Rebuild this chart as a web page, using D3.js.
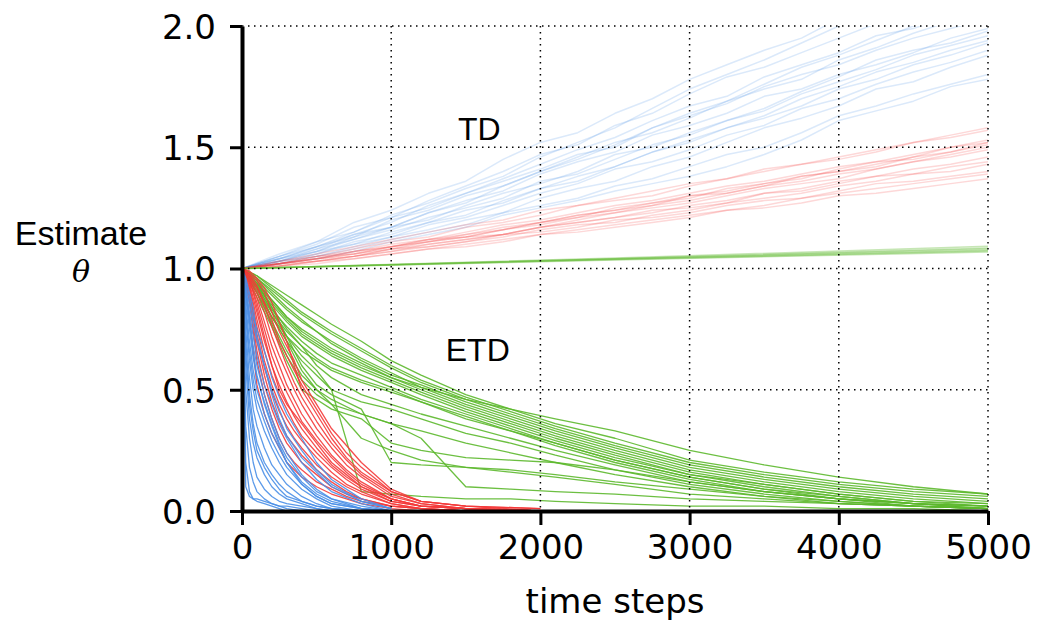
<!DOCTYPE html>
<html>
<head>
<meta charset="utf-8">
<script src="https://cdn.jsdelivr.net/npm/d3@7"></script>
<style>
  body { margin: 0; background: #fff; }
  svg { display: block; }
</style>
</head>
<body>
<div id="chart"></div>
<script>
// Data
const xTicks = [0, 1000, 2000, 3000, 4000, 5000];
const yTicks = [0, 0.5, 1.0, 1.5, 2.0];

// TD runs, sampled every 250 steps
const tdTimes = [0, 250, 500, 750, 1000, 1250, 1500, 1750, 2000, 2250, 2500, 2750, 3000, 3250, 3500, 3750, 4000, 4250, 4500, 4750, 5000];
const tdBlue = [
    [1.00, 1.06, 1.11, 1.19, 1.24, 1.31, 1.36, 1.45, 1.52, 1.56, 1.64, 1.70, 1.78, 1.84, 1.90, 1.95, 2.03, 2.08, 2.12, 2.20, 2.25],
    [1.00, 1.05, 1.10, 1.17, 1.21, 1.28, 1.34, 1.40, 1.47, 1.51, 1.59, 1.64, 1.72, 1.79, 1.83, 1.89, 1.95, 2.01, 2.05, 2.10, 2.15],
    [1.00, 1.04, 1.09, 1.14, 1.19, 1.26, 1.31, 1.37, 1.43, 1.49, 1.54, 1.61, 1.67, 1.71, 1.79, 1.84, 1.89, 1.96, 1.99, 2.04, 2.08],
    [1.00, 1.05, 1.11, 1.15, 1.21, 1.25, 1.31, 1.36, 1.41, 1.47, 1.50, 1.58, 1.63, 1.68, 1.75, 1.80, 1.84, 1.90, 1.95, 1.99, 2.03],
    [1.00, 1.03, 1.08, 1.14, 1.17, 1.23, 1.28, 1.32, 1.39, 1.44, 1.48, 1.55, 1.59, 1.64, 1.71, 1.74, 1.80, 1.84, 1.89, 1.95, 1.99],
    [1.00, 1.04, 1.07, 1.13, 1.17, 1.20, 1.26, 1.31, 1.35, 1.40, 1.47, 1.50, 1.56, 1.61, 1.65, 1.72, 1.77, 1.82, 1.88, 1.92, 1.96],
    [1.00, 1.03, 1.07, 1.10, 1.15, 1.19, 1.22, 1.28, 1.33, 1.36, 1.42, 1.48, 1.52, 1.58, 1.62, 1.67, 1.74, 1.78, 1.84, 1.88, 1.93],
    [1.00, 1.02, 1.06, 1.10, 1.13, 1.18, 1.21, 1.26, 1.31, 1.35, 1.41, 1.44, 1.49, 1.55, 1.59, 1.66, 1.70, 1.76, 1.81, 1.85, 1.90],
    [1.00, 1.03, 1.05, 1.09, 1.13, 1.16, 1.20, 1.23, 1.29, 1.33, 1.36, 1.42, 1.46, 1.52, 1.58, 1.62, 1.67, 1.74, 1.77, 1.83, 1.88],
    [1.00, 1.02, 1.05, 1.08, 1.12, 1.15, 1.18, 1.23, 1.26, 1.29, 1.34, 1.37, 1.42, 1.47, 1.50, 1.56, 1.63, 1.67, 1.72, 1.76, 1.80],
    [1.00, 1.04, 1.08, 1.12, 1.17, 1.23, 1.27, 1.34, 1.40, 1.45, 1.51, 1.58, 1.64, 1.69, 1.76, 1.83, 1.88, 1.94, 2.00, 2.06, 2.12],
    [1.00, 1.02, 1.04, 1.07, 1.11, 1.14, 1.17, 1.22, 1.25, 1.28, 1.32, 1.35, 1.38, 1.42, 1.47, 1.53, 1.61, 1.65, 1.69, 1.75, 1.78],
    [1.00, 1.05, 1.09, 1.15, 1.22, 1.27, 1.33, 1.38, 1.46, 1.52, 1.58, 1.66, 1.74, 1.80, 1.86, 1.93, 2.00, 2.07, 2.13, 2.20, 2.30],
    [1.00, 1.03, 1.06, 1.11, 1.14, 1.19, 1.24, 1.27, 1.33, 1.38, 1.42, 1.48, 1.53, 1.58, 1.63, 1.70, 1.75, 1.81, 1.85, 1.90, 1.94],
    [1.00, 1.04, 1.09, 1.13, 1.20, 1.24, 1.30, 1.34, 1.40, 1.46, 1.52, 1.56, 1.62, 1.69, 1.74, 1.78, 1.86, 1.91, 1.97, 2.02, 2.07],
    [1.00, 1.03, 1.07, 1.12, 1.16, 1.21, 1.25, 1.29, 1.36, 1.39, 1.45, 1.51, 1.55, 1.61, 1.66, 1.73, 1.79, 1.86, 1.90, 1.93, 1.98]
];
const tdRed = [
    [1.00, 1.02, 1.04, 1.07, 1.09, 1.12, 1.13, 1.16, 1.19, 1.22, 1.24, 1.26, 1.30, 1.31, 1.34, 1.38, 1.40, 1.42, 1.46, 1.50, 1.53],
    [1.00, 1.02, 1.04, 1.06, 1.08, 1.11, 1.13, 1.14, 1.17, 1.20, 1.23, 1.25, 1.27, 1.30, 1.33, 1.35, 1.37, 1.41, 1.44, 1.46, 1.49],
    [1.00, 1.03, 1.05, 1.08, 1.11, 1.13, 1.17, 1.19, 1.22, 1.26, 1.28, 1.30, 1.34, 1.37, 1.40, 1.43, 1.45, 1.48, 1.52, 1.54, 1.57],
    [1.00, 1.01, 1.03, 1.05, 1.07, 1.09, 1.11, 1.14, 1.15, 1.17, 1.20, 1.21, 1.23, 1.26, 1.28, 1.29, 1.32, 1.35, 1.36, 1.38, 1.40],
    [1.00, 1.02, 1.03, 1.05, 1.08, 1.10, 1.12, 1.14, 1.17, 1.19, 1.21, 1.24, 1.25, 1.27, 1.31, 1.32, 1.35, 1.38, 1.39, 1.42, 1.44],
    [1.00, 1.02, 1.05, 1.07, 1.10, 1.12, 1.15, 1.18, 1.20, 1.23, 1.26, 1.28, 1.31, 1.34, 1.36, 1.39, 1.42, 1.44, 1.47, 1.50, 1.52],
    [1.00, 1.01, 1.02, 1.04, 1.06, 1.08, 1.09, 1.11, 1.14, 1.15, 1.17, 1.19, 1.21, 1.24, 1.25, 1.27, 1.30, 1.31, 1.33, 1.35, 1.37],
    [1.00, 1.02, 1.04, 1.06, 1.09, 1.11, 1.13, 1.16, 1.18, 1.21, 1.23, 1.26, 1.28, 1.31, 1.34, 1.36, 1.39, 1.41, 1.44, 1.47, 1.50],
    [1.00, 1.03, 1.06, 1.09, 1.12, 1.15, 1.18, 1.20, 1.24, 1.26, 1.29, 1.32, 1.35, 1.37, 1.41, 1.43, 1.46, 1.49, 1.52, 1.55, 1.58],
    [1.00, 1.01, 1.03, 1.04, 1.06, 1.08, 1.10, 1.12, 1.14, 1.16, 1.18, 1.20, 1.22, 1.24, 1.26, 1.29, 1.31, 1.33, 1.35, 1.37, 1.39],
    [1.00, 1.02, 1.04, 1.07, 1.09, 1.11, 1.14, 1.17, 1.19, 1.22, 1.24, 1.27, 1.30, 1.32, 1.35, 1.38, 1.40, 1.43, 1.46, 1.48, 1.51],
    [1.00, 1.02, 1.04, 1.05, 1.07, 1.10, 1.12, 1.14, 1.17, 1.19, 1.21, 1.23, 1.26, 1.28, 1.31, 1.33, 1.36, 1.38, 1.41, 1.43, 1.46],
    [1.00, 1.02, 1.05, 1.06, 1.09, 1.12, 1.14, 1.16, 1.19, 1.21, 1.25, 1.27, 1.29, 1.33, 1.35, 1.37, 1.41, 1.44, 1.45, 1.48, 1.52],
    [1.00, 1.01, 1.03, 1.05, 1.08, 1.09, 1.11, 1.13, 1.16, 1.18, 1.19, 1.22, 1.24, 1.27, 1.29, 1.31, 1.34, 1.36, 1.39, 1.40, 1.43]
];
const tdGreenTimes = [0, 2500, 5000];
const tdGreen = [
    [1.00, 1.040, 1.085],
    [1.00, 1.038, 1.075],
    [1.00, 1.043, 1.092],
    [1.00, 1.035, 1.068],
    [1.00, 1.040, 1.080],
    [1.00, 1.037, 1.072]
];

// ETD runs (descending)
const etdBlueTimes = [0, 25, 50, 75, 100, 150, 200, 250, 300, 400, 500, 600, 800, 1000];
const etdBlue = [
    [1, 0.95, 0.88, 0.80, 0.75, 0.66, 0.55, 0.47, 0.40, 0.30, 0.20, 0.13, 0.05, 0.01],
    [1, 0.92, 0.82, 0.72, 0.64, 0.52, 0.44, 0.36, 0.30, 0.20, 0.13, 0.08, 0.03, 0.00],
    [1, 0.90, 0.78, 0.68, 0.60, 0.48, 0.38, 0.30, 0.24, 0.15, 0.09, 0.05, 0.01, 0],
    [1, 0.85, 0.70, 0.58, 0.50, 0.40, 0.32, 0.26, 0.20, 0.12, 0.07, 0.04, 0.01, 0],
    [1, 0.80, 0.62, 0.50, 0.42, 0.33, 0.26, 0.20, 0.15, 0.09, 0.05, 0.02, 0.00, 0],
    [1, 0.75, 0.55, 0.42, 0.35, 0.26, 0.19, 0.15, 0.11, 0.06, 0.03, 0.01, 0, 0],
    [1, 0.70, 0.48, 0.36, 0.28, 0.20, 0.15, 0.11, 0.08, 0.04, 0.02, 0.01, 0, 0],
    [1, 0.60, 0.38, 0.28, 0.22, 0.15, 0.10, 0.07, 0.05, 0.03, 0.01, 0, 0, 0],
    [1, 0.50, 0.30, 0.20, 0.14, 0.09, 0.06, 0.04, 0.03, 0.02, 0.01, 0, 0, 0],
    [1, 0.35, 0.18, 0.12, 0.08, 0.05, 0.03, 0.02, 0.01, 0, 0, 0, 0, 0],
    [1, 0.20, 0.08, 0.05, 0.04, 0.03, 0.02, 0.01, 0, 0, 0, 0, 0, 0],
    [1, 0.93, 0.85, 0.77, 0.70, 0.60, 0.50, 0.42, 0.34, 0.25, 0.17, 0.11, 0.04, 0.01],
    [1, 0.88, 0.75, 0.63, 0.55, 0.45, 0.36, 0.28, 0.22, 0.14, 0.08, 0.05, 0.02, 0],
    [1, 0.82, 0.66, 0.54, 0.46, 0.37, 0.29, 0.23, 0.18, 0.11, 0.06, 0.03, 0.01, 0],
    [1, 0.65, 0.44, 0.33, 0.25, 0.18, 0.13, 0.09, 0.06, 0.04, 0.02, 0.01, 0, 0],
    [1, 0.90, 0.80, 0.65, 0.56, 0.44, 0.35, 0.27, 0.20, 0.11, 0.06, 0.03, 0.01, 0],
    [1, 0.10, 0.06, 0.05, 0.05, 0.04, 0.03, 0.02, 0.02, 0.01, 0, 0, 0, 0],
    [1, 0.96, 0.90, 0.84, 0.72, 0.60, 0.48, 0.38, 0.31, 0.22, 0.16, 0.10, 0.04, 0.01]
];
const etdRedTimes = [0, 50, 100, 150, 200, 250, 300, 350, 400, 500, 600, 700, 800, 1000, 1200, 1500, 2000];
const etdRed = [
    [1, 0.98, 0.95, 0.90, 0.82, 0.74, 0.68, 0.62, 0.54, 0.44, 0.34, 0.27, 0.20, 0.09, 0.04, 0.02, 0.00],
    [1, 0.97, 0.92, 0.85, 0.76, 0.68, 0.60, 0.53, 0.47, 0.37, 0.28, 0.21, 0.15, 0.07, 0.03, 0.01, 0],
    [1, 0.96, 0.88, 0.78, 0.68, 0.60, 0.52, 0.46, 0.40, 0.31, 0.23, 0.17, 0.12, 0.05, 0.02, 0.01, 0],
    [1, 0.94, 0.82, 0.70, 0.60, 0.52, 0.45, 0.39, 0.34, 0.26, 0.19, 0.14, 0.10, 0.04, 0.02, 0.01, 0],
    [1, 0.92, 0.76, 0.62, 0.52, 0.44, 0.38, 0.33, 0.29, 0.22, 0.16, 0.11, 0.08, 0.03, 0.01, 0, 0],
    [1, 0.90, 0.70, 0.56, 0.45, 0.37, 0.31, 0.27, 0.23, 0.17, 0.12, 0.08, 0.05, 0.02, 0.01, 0, 0],
    [1, 0.86, 0.62, 0.48, 0.38, 0.30, 0.24, 0.20, 0.17, 0.12, 0.09, 0.06, 0.04, 0.02, 0.01, 0, 0],
    [1, 0.80, 0.52, 0.40, 0.32, 0.26, 0.20, 0.17, 0.14, 0.10, 0.07, 0.05, 0.03, 0.01, 0, 0, 0],
    [1, 0.97, 0.90, 0.82, 0.72, 0.64, 0.57, 0.50, 0.44, 0.34, 0.26, 0.19, 0.14, 0.06, 0.03, 0.01, 0],
    [1, 0.95, 0.86, 0.75, 0.64, 0.56, 0.49, 0.43, 0.37, 0.29, 0.22, 0.16, 0.11, 0.05, 0.02, 0.01, 0],
    [1, 0.93, 0.79, 0.66, 0.56, 0.48, 0.42, 0.36, 0.31, 0.24, 0.18, 0.13, 0.09, 0.04, 0.02, 0.01, 0],
    [1, 0.99, 0.96, 0.92, 0.86, 0.78, 0.70, 0.60, 0.50, 0.40, 0.30, 0.22, 0.16, 0.08, 0.04, 0.02, 0.01],
    [1, 0.91, 0.73, 0.59, 0.49, 0.41, 0.35, 0.30, 0.26, 0.19, 0.14, 0.10, 0.07, 0.03, 0.01, 0, 0],
    [1, 0.96, 0.84, 0.72, 0.60, 0.50, 0.44, 0.40, 0.36, 0.28, 0.20, 0.15, 0.10, 0.05, 0.02, 0.01, 0],
    [1, 0.88, 0.66, 0.52, 0.42, 0.34, 0.28, 0.24, 0.20, 0.15, 0.10, 0.07, 0.05, 0.02, 0.01, 0, 0],
    [1, 0.98, 0.93, 0.86, 0.79, 0.70, 0.64, 0.58, 0.52, 0.42, 0.32, 0.24, 0.18, 0.08, 0.04, 0.02, 0.01]
];
const etdGreenTimes = [0, 100, 200, 300, 400, 500, 600, 800, 1000, 1200, 1500, 1800, 2100, 2500, 3000, 3500, 4000, 4500, 5000];
const etdGreen = [
    [1, 0.97, 0.93, 0.89, 0.85, 0.81, 0.77, 0.70, 0.62, 0.56, 0.48, 0.42, 0.36, 0.30, 0.21, 0.16, 0.12, 0.09, 0.07],
    [1, 0.96, 0.91, 0.86, 0.81, 0.77, 0.73, 0.66, 0.59, 0.53, 0.46, 0.40, 0.34, 0.27, 0.19, 0.14, 0.10, 0.07, 0.05],
    [1, 0.95, 0.89, 0.83, 0.78, 0.74, 0.70, 0.63, 0.57, 0.51, 0.44, 0.38, 0.32, 0.25, 0.17, 0.12, 0.08, 0.05, 0.03],
    [1, 0.94, 0.87, 0.80, 0.75, 0.71, 0.67, 0.61, 0.55, 0.50, 0.43, 0.37, 0.31, 0.24, 0.16, 0.11, 0.07, 0.04, 0.02],
    [1, 0.93, 0.85, 0.78, 0.72, 0.68, 0.64, 0.58, 0.53, 0.48, 0.41, 0.35, 0.29, 0.22, 0.15, 0.10, 0.06, 0.03, 0.02],
    [1, 0.92, 0.83, 0.76, 0.70, 0.65, 0.61, 0.56, 0.51, 0.46, 0.40, 0.34, 0.28, 0.21, 0.14, 0.09, 0.05, 0.03, 0.01],
    [1, 0.90, 0.80, 0.72, 0.66, 0.62, 0.58, 0.53, 0.49, 0.45, 0.38, 0.33, 0.27, 0.20, 0.13, 0.08, 0.05, 0.02, 0.01],
    [1, 0.96, 0.90, 0.84, 0.79, 0.74, 0.69, 0.62, 0.56, 0.52, 0.45, 0.39, 0.33, 0.26, 0.18, 0.13, 0.09, 0.06, 0.04],
    [1, 0.94, 0.86, 0.79, 0.73, 0.69, 0.65, 0.59, 0.54, 0.49, 0.42, 0.36, 0.30, 0.23, 0.15, 0.11, 0.07, 0.04, 0.03],
    [1, 0.97, 0.92, 0.87, 0.82, 0.78, 0.74, 0.67, 0.60, 0.54, 0.47, 0.41, 0.35, 0.28, 0.20, 0.15, 0.11, 0.08, 0.06],
    [1, 0.91, 0.82, 0.74, 0.68, 0.63, 0.59, 0.54, 0.50, 0.45, 0.39, 0.33, 0.28, 0.21, 0.14, 0.09, 0.06, 0.03, 0.02],
    [1, 0.93, 0.84, 0.75, 0.68, 0.60, 0.55, 0.48, 0.44, 0.40, 0.35, 0.30, 0.25, 0.19, 0.12, 0.08, 0.05, 0.03, 0.01],
    [1, 0.92, 0.80, 0.70, 0.62, 0.56, 0.50, 0.45, 0.42, 0.38, 0.32, 0.28, 0.23, 0.17, 0.11, 0.07, 0.04, 0.02, 0.01],
    [1, 0.90, 0.78, 0.66, 0.56, 0.50, 0.46, 0.40, 0.36, 0.33, 0.28, 0.24, 0.20, 0.15, 0.10, 0.06, 0.03, 0.02, 0.01],
    [1, 0.88, 0.76, 0.62, 0.50, 0.46, 0.42, 0.38, 0.28, 0.25, 0.22, 0.21, 0.20, 0.17, 0.12, 0.08, 0.05, 0.03, 0.02],
    [1, 0.94, 0.84, 0.72, 0.60, 0.52, 0.48, 0.42, 0.20, 0.19, 0.18, 0.17, 0.15, 0.12, 0.09, 0.06, 0.04, 0.02, 0.01],
    [1, 0.92, 0.80, 0.70, 0.58, 0.50, 0.44, 0.30, 0.25, 0.21, 0.18, 0.16, 0.14, 0.11, 0.07, 0.05, 0.03, 0.02, 0.01],
    [1, 0.90, 0.77, 0.64, 0.54, 0.48, 0.44, 0.40, 0.36, 0.30, 0.10, 0.09, 0.08, 0.07, 0.05, 0.04, 0.03, 0.02, 0.01],
    [1, 0.93, 0.82, 0.72, 0.64, 0.58, 0.50, 0.08, 0.07, 0.06, 0.05, 0.05, 0.04, 0.03, 0.02, 0.02, 0.01, 0.01, 0],
    [1, 0.95, 0.87, 0.80, 0.74, 0.70, 0.66, 0.60, 0.55, 0.51, 0.46, 0.42, 0.38, 0.33, 0.25, 0.19, 0.14, 0.10, 0.07]
];

const colors = { blue: "#4a8fe7", red: "#f43a3a", green: "#5cb82c" };

// Layout
const W = 1039, H = 626;
const margin = { top: 26, right: 51, bottom: 115, left: 242 };
const width = W - margin.left - margin.right;
const height = H - margin.top - margin.bottom;

const svg = d3.select("#chart").append("svg")
    .attr("width", W)
    .attr("height", H);

const g = svg.append("g")
    .attr("transform", `translate(${margin.left},${margin.top})`);

const x = d3.scaleLinear().domain([0, 5000]).range([0, width]);
const y = d3.scaleLinear().domain([0, 2]).range([height, 0]);

g.append("clipPath").attr("id", "plot-clip")
    .append("rect")
    .attr("x", 0).attr("y", 0)
    .attr("width", width).attr("height", height);

const plot = g.append("g").attr("clip-path", "url(#plot-clip)");

function drawRuns(runs, times, color, opts) {
    const line = d3.line()
        .x((d, i) => x(times[i]))
        .y(d => y(d));
    plot.append("g")
        .selectAll("path")
        .data(runs)
        .enter().append("path")
        .attr("d", line)
        .attr("fill", "none")
        .attr("stroke", color)
        .attr("stroke-width", opts.width)
        .attr("stroke-opacity", opts.opacity)
        .attr("stroke-linejoin", "round");
}

// TD (faded)
drawRuns(tdBlue, tdTimes, colors.blue, { width: 1.5, opacity: 0.2 });
drawRuns(tdRed, tdTimes, colors.red, { width: 1.5, opacity: 0.2 });
drawRuns(tdGreen, tdGreenTimes, colors.green, { width: 1.5, opacity: 0.35 });

// ETD (solid)
drawRuns(etdGreen, etdGreenTimes, colors.green, { width: 1.3, opacity: 0.9 });
drawRuns(etdRed, etdRedTimes, colors.red, { width: 1.3, opacity: 0.9 });
drawRuns(etdBlue, etdBlueTimes, colors.blue, { width: 1.3, opacity: 0.9 });

// Dotted grid
const grid = g.append("g").attr("class", "grid");
grid.selectAll(".gx")
    .data(xTicks.filter(d => d > 0))
    .enter().append("line")
    .attr("x1", d => x(d)).attr("x2", d => x(d))
    .attr("y1", 0).attr("y2", height)
    .attr("stroke", "#000")
    .attr("stroke-width", 1.5)
    .attr("stroke-dasharray", "1.5,4.5");
grid.selectAll(".gy")
    .data(yTicks.filter(d => d > 0))
    .enter().append("line")
    .attr("x1", 0).attr("x2", width)
    .attr("y1", d => y(d)).attr("y2", d => y(d))
    .attr("stroke", "#000")
    .attr("stroke-width", 1.5)
    .attr("stroke-dasharray", "1.5,4.5");

// Axes
const xAxis = g.append("g")
    .attr("transform", `translate(0,${height})`)
    .call(d3.axisBottom(x).tickValues(xTicks).tickFormat(d3.format("d")).tickSize(14).tickPadding(10).tickSizeOuter(0));
const yAxis = g.append("g")
    .call(d3.axisLeft(y).tickValues(yTicks).tickFormat(d3.format(".1f")).tickSize(12).tickPadding(14).tickSizeOuter(0));

[xAxis, yAxis].forEach(ax => {
    ax.select(".domain").attr("stroke", "#000").attr("stroke-width", 4);
    ax.selectAll(".tick line").attr("stroke", "#000").attr("stroke-width", 3);
    ax.selectAll(".tick text")
        .attr("fill", "#000")
        .style("font-family", "'DejaVu Sans', sans-serif")
        .style("font-size", "34px");
});
yAxis.selectAll(".tick text").attr("dy", "0.36em");

// Labels
svg.append("text")
    .attr("x", margin.left + width / 2)
    .attr("y", 613)
    .attr("text-anchor", "middle")
    .style("font-family", "'DejaVu Sans', sans-serif")
    .style("font-size", "34px")
    .text("time steps");

svg.append("text")
    .attr("x", 81)
    .attr("y", 245)
    .attr("text-anchor", "middle")
    .style("font-family", "'Liberation Sans', Arial, sans-serif")
    .style("font-size", "34px")
    .text("Estimate");

svg.append("text")
    .attr("x", 81)
    .attr("y", 282)
    .attr("text-anchor", "middle")
    .style("font-family", "'DejaVu Serif', serif")
    .style("font-style", "italic")
    .style("font-size", "30px")
    .text("θ");

g.append("text")
    .attr("x", x(1590))
    .attr("y", y(1.53))
    .attr("text-anchor", "middle")
    .style("font-family", "'Liberation Sans', Arial, sans-serif")
    .style("font-size", "32px")
    .text("TD");

g.append("text")
    .attr("x", x(1580))
    .attr("y", y(0.62))
    .attr("text-anchor", "middle")
    .style("font-family", "'Liberation Sans', Arial, sans-serif")
    .style("font-size", "32px")
    .text("ETD");
</script>
</body>
</html>
